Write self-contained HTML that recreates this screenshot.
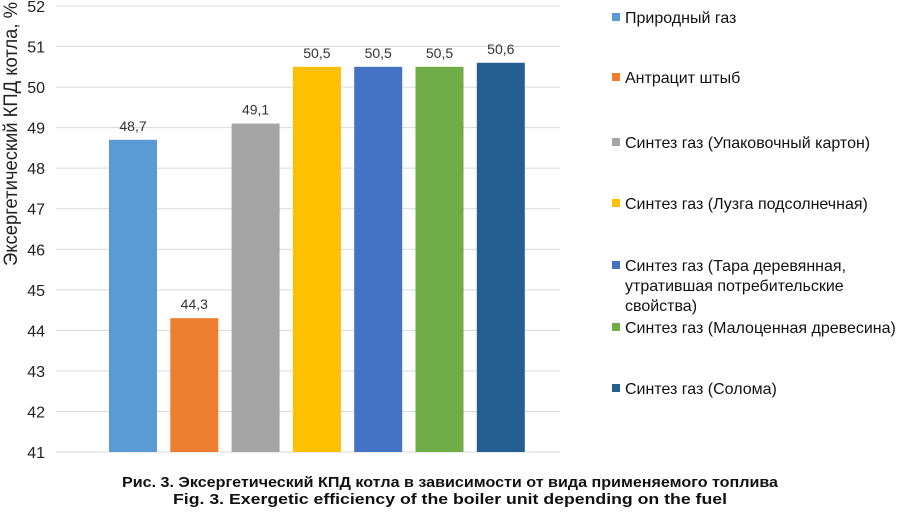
<!DOCTYPE html>
<html><head><meta charset="utf-8"><style>
body{margin:0;background:#fff;width:900px;height:510px;overflow:hidden;font-family:"Liberation Sans",Arial,sans-serif}
</style></head><body>
<svg id="chart" width="900" height="510" xmlns="http://www.w3.org/2000/svg" font-family="Liberation Sans, Arial, sans-serif">
<g id="grid"></g><g id="bars"></g><g id="legend"></g>
<text transform="translate(17,134) rotate(-90)" text-anchor="middle" font-size="19" fill="#222" textLength="264" lengthAdjust="spacingAndGlyphs">Эксергетический КПД котла, %</text>
<text x="450" y="487" text-anchor="middle" font-size="15" font-weight="bold" fill="#111" textLength="656" lengthAdjust="spacingAndGlyphs">Рис. 3. Эксергетический КПД котла в зависимости от вида применяемого топлива</text>
<text x="450" y="504" text-anchor="middle" font-size="15" font-weight="bold" fill="#111" textLength="554" lengthAdjust="spacingAndGlyphs">Fig. 3. Exergetic efficiency of the boiler unit depending on the fuel</text>
</svg>
<script>
const categories=["Природный газ","Антрацит штыб","Синтез газ (Упаковочный картон)","Синтез газ (Лузга подсолнечная)","Синтез газ (Тара деревянная, утратившая потребительские свойства)","Синтез газ (Малоценная древесина)","Синтез газ (Солома)"];
const values=[48.7,44.3,49.1,50.5,50.5,50.5,50.6];
const valueLabels=["48,7","44,3","49,1","50,5","50,5","50,5","50,6"];
const yTicks=[41,42,43,44,45,46,47,48,49,50,51,52];
const colors=["#5b9bd5","#ed7d31","#a5a5a5","#ffc000","#4472c4","#70ad47","#255e91"];
const legendLines=[["Природный газ"],["Антрацит штыб"],["Синтез газ (Упаковочный картон)"],["Синтез газ (Лузга подсолнечная)"],["Синтез газ (Тара деревянная,","утратившая потребительские","свойства)"],["Синтез газ (Малоценная древесина)"],["Синтез газ (Солома)"]];
const legendY=[18,78,143,204,266,328,389];
const NS="http://www.w3.org/2000/svg";
const y=v=>452-(v-41)*(446/11);
const x=i=>133+i*61.3;
function mk(t,a,p){const e=document.createElementNS(NS,t);for(const k in a)e.setAttribute(k,a[k]);p.appendChild(e);return e;}
const g=document.getElementById('grid'),b=document.getElementById('bars'),l=document.getElementById('legend');
yTicks.forEach(t=>{
 const ln=mk('line',{x1:56,x2:560,y1:y(t),y2:y(t),stroke:'#d9d9d9','stroke-width':1},g);
 
 
 const tx=mk('text',{x:45,y:y(t)+6,'text-anchor':'end','font-size':16,fill:'#222'},g);
 tx.textContent=t;
 
 
});
values.forEach((v,i)=>{
 const r=mk('rect',{x:x(i)-24,y:y(v),width:48,height:452-y(v),fill:colors[i]},b);
 
 
 const t=mk('text',{x:x(i),y:y(v)-9,'text-anchor':'middle','font-size':14,fill:'#333'},b);
 t.textContent=valueLabels[i];
 
 
});
legendLines.forEach((ls,i)=>{
 const r=mk('rect',{x:612,y:legendY[i]-5,width:8,height:8,fill:colors[i]},l);
 
 
 ls.forEach((s,j)=>{
  const t=mk('text',{x:625,y:legendY[i]+5+j*20,'font-size':16,fill:'#111'},l);
  t.textContent=s;
  
  
 });
});
</script>
</body></html>
